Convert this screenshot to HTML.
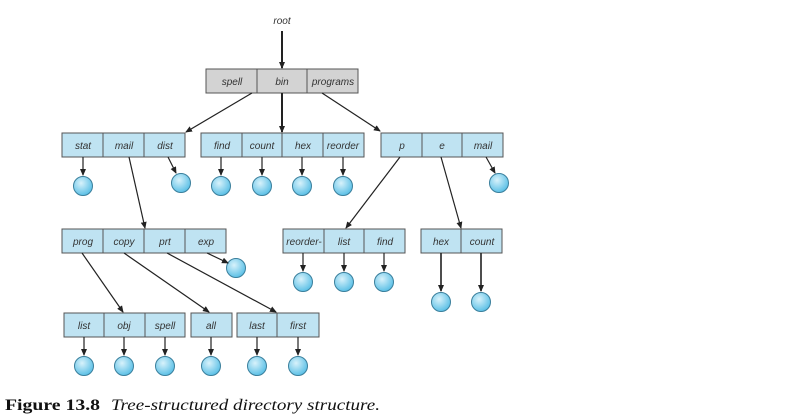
<!DOCTYPE html>
<html><head><style>
html,body{margin:0;padding:0;background:#fff;width:789px;height:415px;overflow:hidden}
svg text{font-family:"Liberation Sans",sans-serif;font-style:italic;font-size:10px;fill:#333}
</style></head><body>
<svg width="789" height="415" viewBox="0 0 789 415" xmlns="http://www.w3.org/2000/svg">
<defs>
<marker id="a" markerWidth="8" markerHeight="8" refX="6" refY="3" orient="auto" markerUnits="userSpaceOnUse"><path d="M0,0 L7,3 L0,6 z" fill="#222"/></marker>
<radialGradient id="g" cx="40%" cy="35%" r="65%"><stop offset="0" stop-color="#d8f2fb"/><stop offset="1" stop-color="#5cc0e6"/></radialGradient>
</defs>
<g stroke="#555" stroke-width="1">
<rect x="206" y="69" width="152" height="24" fill="#d3d3d3"/>
<line x1="257" y1="69" x2="257" y2="93"/><line x1="307" y1="69" x2="307" y2="93"/>
<g fill="#bfe3f2">
<rect x="62" y="133" width="123" height="24"/>
<rect x="201" y="133" width="163" height="24"/>
<rect x="381" y="133" width="122" height="24"/>
<rect x="62" y="229" width="164" height="24"/>
<rect x="283" y="229" width="122" height="24"/>
<rect x="421" y="229" width="81" height="24"/>
<rect x="64" y="313" width="121" height="24"/>
<rect x="191" y="313" width="41" height="24"/>
<rect x="237" y="313" width="82" height="24"/>
</g>
<line x1="103" y1="133" x2="103" y2="157"/><line x1="144" y1="133" x2="144" y2="157"/>
<line x1="242" y1="133" x2="242" y2="157"/><line x1="282" y1="133" x2="282" y2="157"/><line x1="323" y1="133" x2="323" y2="157"/>
<line x1="422" y1="133" x2="422" y2="157"/><line x1="462" y1="133" x2="462" y2="157"/>
<line x1="103" y1="229" x2="103" y2="253"/><line x1="144" y1="229" x2="144" y2="253"/><line x1="185" y1="229" x2="185" y2="253"/>
<line x1="324" y1="229" x2="324" y2="253"/><line x1="364" y1="229" x2="364" y2="253"/>
<line x1="461" y1="229" x2="461" y2="253"/>
<line x1="104" y1="313" x2="104" y2="337"/><line x1="145" y1="313" x2="145" y2="337"/>
<line x1="277" y1="313" x2="277" y2="337"/>
</g>
<g fill="url(#g)" stroke="#3a7f9c" stroke-width="1">
<circle cx="83" cy="186" r="9.5"/><circle cx="181" cy="183" r="9.5"/>
<circle cx="221" cy="186" r="9.5"/><circle cx="262" cy="186" r="9.5"/><circle cx="302" cy="186" r="9.5"/><circle cx="343" cy="186" r="9.5"/>
<circle cx="499" cy="183" r="9.5"/>
<circle cx="236" cy="268" r="9.5"/>
<circle cx="303" cy="282" r="9.5"/><circle cx="344" cy="282" r="9.5"/><circle cx="384" cy="282" r="9.5"/>
<circle cx="441" cy="302" r="9.5"/><circle cx="481" cy="302" r="9.5"/>
<circle cx="84" cy="366" r="9.5"/><circle cx="124" cy="366" r="9.5"/><circle cx="165" cy="366" r="9.5"/>
<circle cx="211" cy="366" r="9.5"/><circle cx="257" cy="366" r="9.5"/><circle cx="298" cy="366" r="9.5"/>
</g>
<g stroke="#222" stroke-width="1.2" marker-end="url(#a)">
<line x1="282" y1="31" x2="282" y2="68" stroke-width="2"/>
<line x1="252" y1="93" x2="186" y2="132"/>
<line x1="282" y1="93" x2="282" y2="132" stroke-width="2"/>
<line x1="322" y1="93" x2="380" y2="131"/>
<line x1="129" y1="157" x2="145" y2="228"/>
<line x1="400" y1="157" x2="346" y2="228"/>
<line x1="441" y1="157" x2="461" y2="228"/>
<line x1="82" y1="253" x2="123" y2="312"/>
<line x1="124" y1="253" x2="209" y2="312"/>
<line x1="167" y1="253" x2="276" y2="312"/>
<line x1="207" y1="253" x2="228" y2="263"/>
<line x1="83" y1="157" x2="83" y2="175"/>
<line x1="168" y1="157" x2="176" y2="173"/>
<line x1="221" y1="157" x2="221" y2="175"/><line x1="262" y1="157" x2="262" y2="175"/><line x1="302" y1="157" x2="302" y2="175"/><line x1="343" y1="157" x2="343" y2="175"/>
<line x1="486" y1="157" x2="495" y2="173"/>
<line x1="303" y1="253" x2="303" y2="271"/><line x1="344" y1="253" x2="344" y2="271"/><line x1="384" y1="253" x2="384" y2="271"/>
<line x1="441" y1="253" x2="441" y2="291" stroke-width="1.6"/><line x1="481" y1="253" x2="481" y2="291" stroke-width="1.6"/>
<line x1="84" y1="337" x2="84" y2="355"/><line x1="124" y1="337" x2="124" y2="355"/><line x1="165" y1="337" x2="165" y2="355"/>
<line x1="211" y1="337" x2="211" y2="355"/><line x1="257" y1="337" x2="257" y2="355"/><line x1="298" y1="337" x2="298" y2="355"/>
</g>
<g text-anchor="middle">
<text x="282" y="24">root</text>
<text x="232" y="85">spell</text><text x="282" y="85">bin</text><text x="333" y="85">programs</text>
<text x="83" y="149">stat</text><text x="124" y="149">mail</text><text x="165" y="149">dist</text>
<text x="222" y="149">find</text><text x="262" y="149">count</text><text x="303" y="149">hex</text><text x="343" y="149">reorder</text>
<text x="402" y="149">p</text><text x="442" y="149">e</text><text x="483" y="149">mail</text>
<text x="83" y="245">prog</text><text x="124" y="245">copy</text><text x="165" y="245">prt</text><text x="206" y="245">exp</text>
<text x="304" y="245">reorder-</text><text x="344" y="245">list</text><text x="385" y="245">find</text>
<text x="441" y="245">hex</text><text x="482" y="245">count</text>
<text x="84" y="329">list</text><text x="124" y="329">obj</text><text x="165" y="329">spell</text>
<text x="211" y="329">all</text><text x="257" y="329">last</text><text x="298" y="329">first</text>
</g>
<text x="5" y="410" textLength="95" lengthAdjust="spacingAndGlyphs" style="font-family:'Liberation Serif',serif;font-style:normal;font-weight:bold;font-size:16px;fill:#111">Figure 13.8</text>
<text x="111" y="410" textLength="269" lengthAdjust="spacingAndGlyphs" style="font-family:'Liberation Serif',serif;font-style:italic;font-size:16px;fill:#111">Tree-structured directory structure.</text>
</svg>
</body></html>
